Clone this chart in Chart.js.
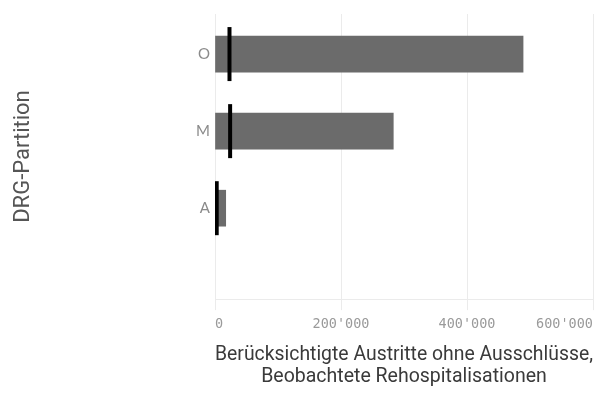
<!DOCTYPE html>
<html>
<head>
<meta charset="utf-8">
<script src="https://cdn.jsdelivr.net/npm/chart.js@4/dist/chart.umd.min.js"></script>
<style>
  html, body { margin: 0; padding: 0; background: #fff; }
  #wrap { width: 599px; height: 410px; position: relative; }
</style>
</head>
<body>
<div id="wrap"><canvas id="chart"></canvas></div>
<script>
// categories, top to bottom
const categories = ['O', 'M', 'A'];
// Berücksichtigte Austritte ohne Ausschlüsse
const austritte = [489000, 283000, 17000];
// Beobachtete Rehospitalisationen
const rehosp = [23000, 24000, 2700];
const xTicks = [0, 200000, 400000, 600000];

function fmt(v) {
    return String(v).replace(/\B(?=(\d{3})+(?!\d))/g, "'");
}

const barData = categories.map((c, i) => ({ x: austritte[i], y: i }));
const markData = categories.map((c, i) => ({ x: rehosp[i], y: i }));

new Chart(document.getElementById('chart'), {
    type: 'bar',
    data: {
        datasets: [
            {
                type: 'scatter',
                data: markData,
                pointStyle: 'line',
                rotation: 90,
                radius: 27,
                hoverRadius: 27,
                borderWidth: 4,
                borderColor: '#000',
                backgroundColor: '#000'
            },
            {
                type: 'bar',
                data: barData,
                backgroundColor: '#6b6b6b',
                barThickness: 36
            }
        ]
    },
    options: {
        indexAxis: 'y',
        responsive: true,
        maintainAspectRatio: false,
        animation: false,
        events: [],
        layout: { autoPadding: false, padding: { top: 9, right: 2, bottom: 22, left: 0 } },
        plugins: { legend: { display: false }, tooltip: { enabled: false } },
        scales: {
            x: {
                type: 'linear',
                offset: false,
                min: 0,
                max: 600000,
                afterBuildTicks: s => { s.ticks = xTicks.map(v => ({ value: v })); },
                grid: { color: '#ebebeb', lineWidth: 1, tickLength: 11, offset: false },
                border: { display: true, color: '#ebebeb' },
                ticks: {
                    align: 'inner',
                    color: '#9a9a9a',
                    font: { family: 'DejaVu Sans Mono', size: 13.5 },
                    padding: 6,
                    callback: v => fmt(v)
                },
                title: {
                    display: true,
                    text: ['Berücksichtigte Austritte ohne Ausschlüsse,', 'Beobachtete Rehospitalisationen'],
                    color: '#3a3a3a',
                    font: { family: 'Roboto', size: 19.5, lineHeight: 1.12 },
                    padding: { top: 6, bottom: 0 }
                }
            },
            y: {
                type: 'linear',
                offset: false,
                reverse: true,
                min: -0.52,
                max: 3.18,
                afterBuildTicks: s => { s.ticks = categories.map((c, i) => ({ value: i })); },
                afterFit: s => { s.width = 215; },
                grid: { display: false, drawTicks: false, tickLength: 0, offset: false },
                border: { display: false },
                ticks: {
                    color: '#8a8a8a',
                    font: { family: 'Lato', size: 15 },
                    padding: 5,
                    callback: v => categories[v] || ''
                },
                title: {
                    display: true,
                    text: 'DRG-Partition',
                    color: '#555',
                    font: { family: 'Roboto', size: 22 },
                    padding: { top: 10, bottom: 0 }
                }
            }
        }
    }
});
</script>
</body>
</html>
